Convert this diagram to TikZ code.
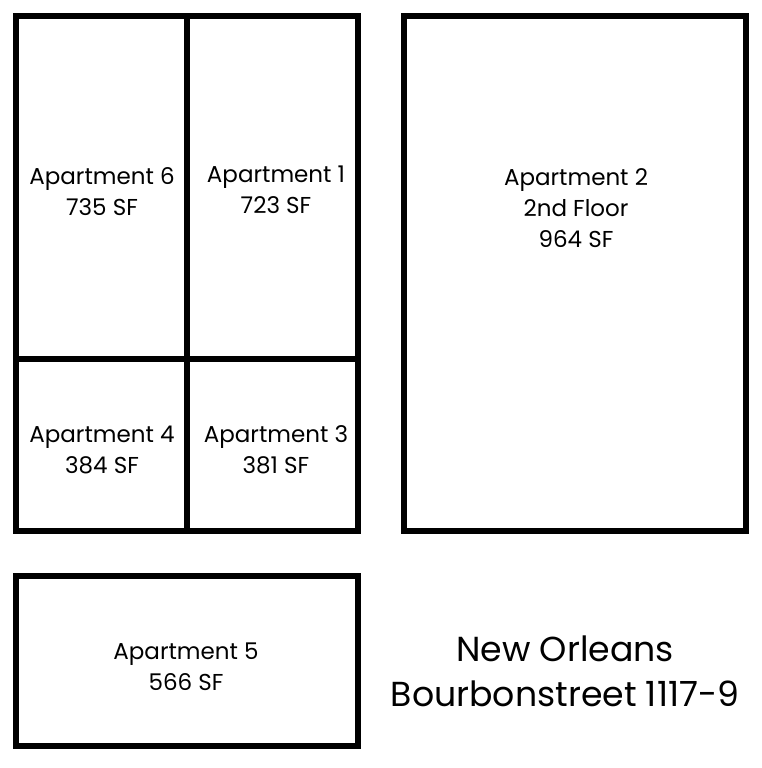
\documentclass[tikz,border=0pt]{standalone}
\usepackage{fontspec}
\setmainfont{Poppins}
\tikzset{
  wall/.style={line width=5.5pt,line join=miter},
  room/.style={align=center,font=\fontsize{23}{31}\selectfont},
  title/.style={align=center,font=\fontsize{34.7}{45}\selectfont}
}
\begin{document}
\begin{tikzpicture}[x=1pt,y=-1pt]
\useasboundingbox[fill=white] (0,0) rectangle (762,768);
% ground floor block
\draw[wall] (16,16) rectangle (358,531);
\draw[wall] (187,16)--(187,531);
\draw[wall] (16,359)--(358,359);
% second floor
\draw[wall] (404,16) rectangle (746,531);
% annex
\draw[wall] (16,576) rectangle (358,746);
\node[room] (apt6) at (102,192) {Apartment 6\\735 SF};
\node[room] (apt1) at (276,190) {Apartment 1\\723 SF};
\node[room] (apt2) at (576,208) {Apartment 2\\2nd Floor\\964 SF};
\node[room] (apt4) at (102,450) {Apartment 4\\384 SF};
\node[room] (apt3) at (276,450) {Apartment 3\\381 SF};
\node[room] (apt5) at (186,667) {Apartment 5\\566 SF};
\node[title] (addr) at (565,671) {New Orleans\\Bourbonstreet 1117-9};
\end{tikzpicture}
\end{document}
